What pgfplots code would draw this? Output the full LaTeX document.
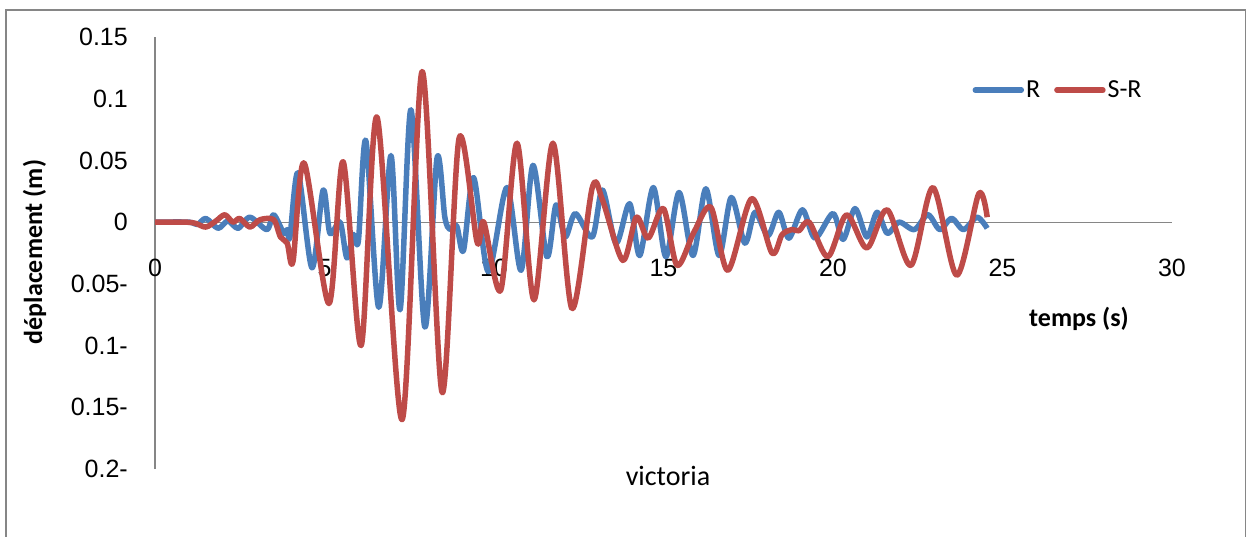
\documentclass[border=0pt]{standalone}
\usepackage{fontspec}
\setmainfont{Carlito}
\newfontfamily\arialfont{Liberation Sans}
\usepackage{pgfplots}
\pgfplotsset{compat=1.18}
\definecolor{rblue}{RGB}{74,126,187}
\definecolor{rred}{RGB}{190,75,72}
\definecolor{fgray}{RGB}{134,134,134}
\begin{document}
\begin{tikzpicture}[x=1pt,y=1pt]
\useasboundingbox (0,0) rectangle (1250,536);
\draw[fgray, line width=1.5pt] (6,-20) -- (6,526) -- (1245.5,526) -- (1245.5,-20);
\begin{axis}[
  at={(155pt,67pt)}, anchor=south west,
  scale only axis, width=1017pt, height=432pt,
  xmin=0, xmax=30, ymin=-0.2, ymax=0.15,
  axis x line=middle, axis y line=left,
  axis line style={fgray, line width=1.2pt, -},
  hide obscured x ticks=false, hide obscured y ticks=false,
  major tick length=0pt,
  /pgf/number format/assume math mode=true,
  xtick={0,5,10,15,20,25,30},
  xticklabels={0,5,10,15,20,25,30},
  ytick={-0.2,-0.15,-0.1,-0.05,0,0.05,0.1,0.15},
  yticklabels={0.2-,0.15-,0.1-,0.05-,0,0.05,0.1,0.15},
  ticklabel style={font=\arialfont\fontsize{25}{30}\selectfont, inner sep=0pt},
  xticklabel style={anchor=north, yshift=-37pt},
  yticklabel style={anchor=east, xshift=-27pt},
  legend style={draw=none, fill=none, at={(0.888,0.877)}, anchor=center,
    legend columns=2, font=\fontsize{26}{30}\selectfont,
    /tikz/every even column/.append style={column sep=12pt}},
  legend image code/.code={\draw[#1, line width=5.5pt, line cap=round] (0pt,0pt) -- (46pt,0pt);},
]
\addplot[rblue, line width=5.5pt, smooth, tension=0.5, line join=round] coordinates {
(0,0) (1.0,0) (1.25,-0.002) (1.5,0.003) (1.86,-0.005) (2.15,0.001) (2.45,-0.005)
(2.8,0.004) (3.3,-0.006) (3.5,0.006) (3.8,-0.009) (3.9,-0.006) (3.98,-0.012)
(4.22,0.040) (4.63,-0.037) (4.96,0.026) (5.16,-0.009) (5.46,0.0) (5.66,-0.029)
(5.85,-0.010) (6.0,-0.015) (6.22,0.066) (6.6,-0.069) (6.96,0.054) (7.23,-0.071)
(7.55,0.091) (7.96,-0.085) (8.32,0.052) (8.55,0.004) (8.7,-0.006) (8.9,-0.003)
(9.1,-0.023) (9.4,0.036) (9.83,-0.040) (10.38,0.028) (10.8,-0.039) (11.15,0.046)
(11.56,-0.028) (11.83,0.014) (12.1,-0.012) (12.4,0.007) (12.9,-0.012) (13.2,0.026)
(13.6,-0.017) (14.0,0.015) (14.3,-0.027) (14.7,0.028) (15.07,-0.028) (15.46,0.024)
(15.87,-0.027) (16.25,0.027) (16.64,-0.027) (17.0,0.020) (17.4,-0.017) (17.7,0.008)
(18.08,-0.011) (18.4,0.008) (18.7,-0.013) (19.1,0.010) (19.47,-0.013) (20.0,0.007)
(20.3,-0.014) (20.65,0.011) (21.0,-0.012) (21.3,0.008) (21.6,-0.009) (21.95,0.0)
(22.4,-0.006) (22.8,0.006) (23.15,-0.006) (23.5,0.003) (23.85,-0.006) (24.25,0.004)
(24.55,-0.005)
};
\addlegendentry{R}
\addplot[rred, line width=5.5pt, smooth, tension=0.5, line join=round] coordinates {
(0,0) (0.9,0) (1.2,-0.001) (1.5,-0.004) (1.8,0.001) (2.06,0.006) (2.3,0.0)
(2.5,0.003) (2.8,-0.004) (3.1,0.002) (3.5,0.002) (3.7,-0.012) (3.9,-0.017)
(4.07,-0.032) (4.4,0.048) (5.13,-0.066) (5.55,0.049) (6.08,-0.100) (6.55,0.085)
(7.29,-0.160) (7.88,0.122) (8.47,-0.138) (8.97,0.068) (9.5,-0.016) (9.7,0.0)
(10.2,-0.055) (10.68,0.064) (11.18,-0.063) (11.74,0.064) (12.3,-0.070) (12.9,0.028)
(13.2,0.018) (13.8,-0.031) (14.2,0.004) (14.55,-0.013) (15.0,0.011) (15.4,-0.035)
(15.9,-0.008) (16.4,0.012) (16.9,-0.039) (17.6,0.019) (18.2,-0.025) (18.5,-0.010)
(18.8,-0.006) (19.0,-0.007) (19.3,0.0) (19.85,-0.028) (20.4,0.006) (21.0,-0.021)
(21.6,0.010) (22.3,-0.035) (22.95,0.028) (23.65,-0.043) (24.3,0.023) (24.55,0.004)
};
\addlegendentry{S-R}
\end{axis}
\node[rotate=90, anchor=base, font=\bfseries\fontsize{26}{30}\selectfont] at (42,284) {déplacement (m)};
\node[anchor=base, font=\bfseries\fontsize{26}{30}\selectfont] at (1079,209) {temps (s)};
\node[anchor=base, font=\fontsize{28}{32}\selectfont] at (668,51) {victoria};
\end{tikzpicture}
\end{document}
